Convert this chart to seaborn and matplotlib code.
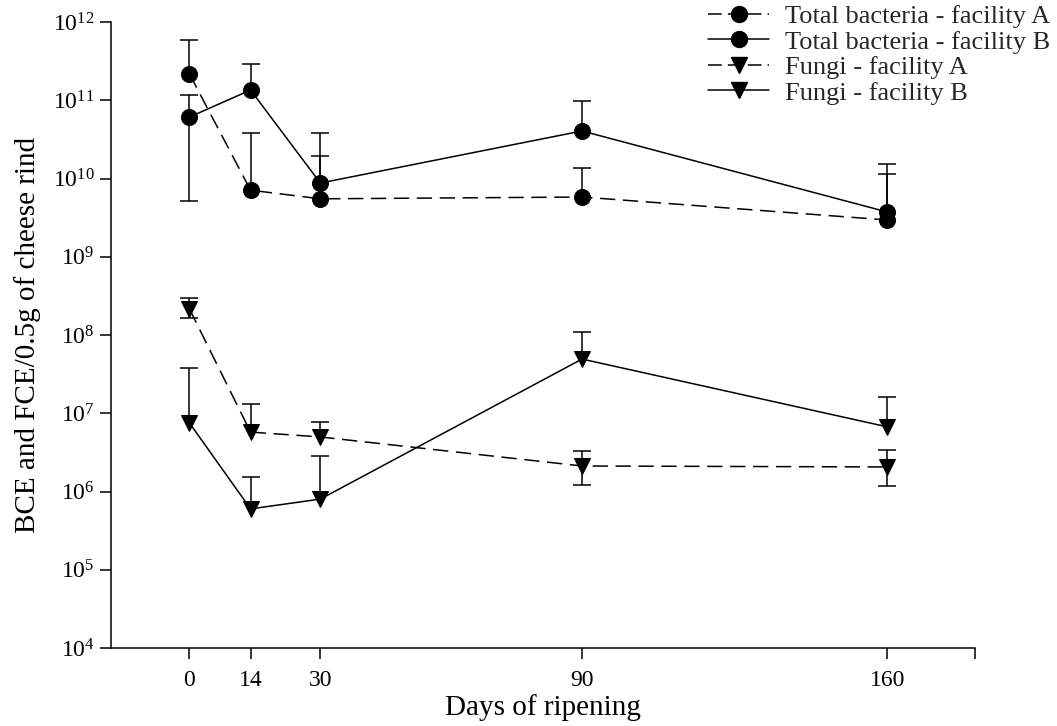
import numpy as np
import pandas as pd
import matplotlib
matplotlib.use("Agg")
import matplotlib.pyplot as plt
from matplotlib.lines import Line2D
import seaborn as sns

# -----------------------------------
# DATA
# -----------------------------------

days = [0, 14, 30, 90, 160]

bact_a = [2.16e11, 7.1e9, 5.5e9, 5.8e9, 2.95e9]
bact_a_hi = [5.9e11, 3.8e10, 1.94e10, 1.36e10, 1.14e10]
bact_a_lo = [np.nan, np.nan, np.nan, np.nan, np.nan]

bact_b = [6.1e10, 1.35e11, 8.75e9, 4.05e10, 3.73e9]
bact_b_hi = [1.17e11, 2.9e11, 3.8e10, 9.8e10, 1.53e10]
bact_b_lo = [5.15e9, np.nan, np.nan, np.nan, np.nan]

fungi_a = [2.15e8, 5.75e6, 4.98e6, 2.12e6, 2.06e6]
fungi_a_hi = [2.97e8, 1.31e7, 7.7e6, 3.3e6, 3.4e6]
fungi_a_lo = [1.65e8, np.nan, np.nan, 1.21e6, 1.17e6]

fungi_b = [7.5e6, 6.0e5, 8.0e5, 4.93e7, 6.7e6]
fungi_b_hi = [3.78e7, 1.53e6, 2.84e6, 1.09e8, 1.61e7]
fungi_b_lo = [np.nan, np.nan, np.nan, np.nan, np.nan]

series_names = [
    "Total bacteria - facility A",
    "Total bacteria - facility B",
    "Fungi - facility A",
    "Fungi - facility B",
]
series_vals = [bact_a, bact_b, fungi_a, fungi_b]
series_hi = [bact_a_hi, bact_b_hi, fungi_a_hi, fungi_b_hi]
series_lo = [bact_a_lo, bact_b_lo, fungi_a_lo, fungi_b_lo]

x_ticks = [0, 14, 30, 90, 160, 180]
x_ticklabels = ["0", "14", "30", "90", "160", ""]
y_exps = list(range(4, 13))

markers = {series_names[0]: "o", series_names[1]: "o",
           series_names[2]: "v", series_names[3]: "v"}
dashes = {series_names[0]: (10, 5), series_names[1]: "",
          series_names[2]: (10, 5), series_names[3]: ""}

# -----------------------------------
# LONG FORM TABLE
# -----------------------------------

rows = []
for name, vals in zip(series_names, series_vals):
    for d, v in zip(days, vals):
        rows.append({"day": d, "value": v, "series": name})
df = pd.DataFrame(rows)

# -----------------------------------
# PLOT
# -----------------------------------

sns.set_style("ticks")
plt.rcParams["font.family"] = ["Liberation Serif", "DejaVu Serif"]
plt.rcParams["mathtext.fontset"] = "custom"
plt.rcParams["mathtext.rm"] = "Liberation Serif"
plt.rcParams["mathtext.it"] = "Liberation Serif:italic"

fig = plt.figure(figsize=(10.57, 7.26), dpi=100)
ax = fig.add_axes([0.105, 0.1074, 0.817, 0.8623])

lw = 1.1
ms = 11.5

sns.lineplot(data=df, x="day", y="value", style="series",
             markers=markers, dashes=dashes, color="black",
             linewidth=lw, markersize=ms, markeredgecolor="black",
             legend=False, ax=ax, zorder=3)

# error bars: upper and lower parts drawn separately, NaN = not shown
for vals, hi, lo in zip(series_vals, series_hi, series_lo):
    vals = np.array(vals)
    up = np.array(hi) - vals
    down = vals - np.array(lo)
    _, caps, _ = ax.errorbar(days, vals, yerr=[np.zeros_like(up), up],
                             fmt="none", ecolor="black", elinewidth=lw,
                             capsize=6.8, capthick=lw, zorder=2)
    caps[0].set_visible(False)
    _, caps, _ = ax.errorbar(days, vals, yerr=[down, np.zeros_like(down)],
                             fmt="none", ecolor="black", elinewidth=lw,
                             capsize=6.8, capthick=lw, zorder=2)
    caps[1].set_visible(False)

ax.set_yscale("log")
ax.set_ylim(1e4, 1e12)
ax.set_yticks([10.0 ** k for k in y_exps])
ax.set_yticklabels([f"$10^{{{k}}}$" for k in y_exps])
ax.yaxis.set_minor_locator(matplotlib.ticker.NullLocator())

ax.set_xlim(-18, 180)
ax.set_xticks(x_ticks)
ax.set_xticklabels(x_ticklabels)

ax.tick_params(axis="both", direction="out", length=8, width=lw,
               labelsize=17, color="black", labelcolor="black")
ax.tick_params(axis="x", pad=8)
ax.tick_params(axis="y", pad=4)

sns.despine(ax=ax)
for s in ["left", "bottom"]:
    ax.spines[s].set_linewidth(lw)
    ax.spines[s].set_color("black")

ax.set_xlabel("Days of ripening", fontsize=21, color="black", labelpad=2)
ax.set_ylabel("BCE and FCE/0.5g of cheese rind", fontsize=21,
              color="black", labelpad=8)

# -----------------------------------
# LEGEND
# -----------------------------------

handles = []
for n in series_names:
    h = Line2D([], [], color="black", lw=lw, marker=markers[n],
               markersize=ms)
    if dashes[n]:
        h.set_dashes((9, 4))
    handles.append(h)
fig.legend(handles, series_names, loc="upper right",
           bbox_to_anchor=(1.006, 1.012), frameon=False, fontsize=19,
           handlelength=2.3, handletextpad=0.6, labelspacing=0.08,
           borderaxespad=0.1)

fig.savefig("out.png", dpi=100)
